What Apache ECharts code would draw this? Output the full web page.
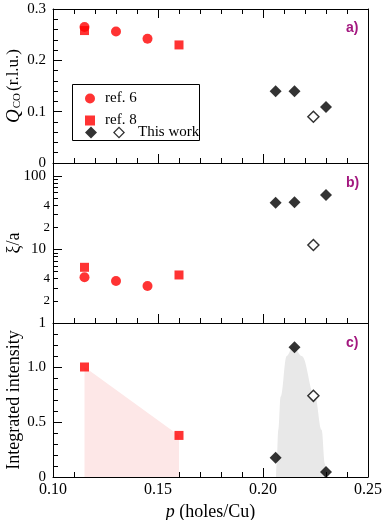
<!DOCTYPE html>
<html><head><meta charset="utf-8">
<script src="https://cdn.jsdelivr.net/npm/echarts@6/dist/echarts.min.js"></script>
<style>html,body{margin:0;padding:0;background:#fff}.pn{position:absolute;left:0;top:0;width:385px;height:520px}</style>
</head><body><div id="ca" class="pn"></div><div id="cb" class="pn"></div><div id="cc" class="pn"></div>
<script>
// ---- data ----
const ref6P = [0.115, 0.130, 0.145];
const ref6Q = [0.265, 0.256, 0.242];
const ref6Xi = [4.19, 3.73, 3.19];
const ref8P = [0.115, 0.160];
const ref8Q = [0.258, 0.230];
const ref8Xi = [5.72, 4.5];
const ref8I = [1.0, 0.378];
const workP = [0.206, 0.215, 0.230];
const workQ = [0.140, 0.140, 0.109];
const workXi = [43.3, 44, 55];
const workI = [0.174, 1.18, 0.046];
const openP = [0.224];
const openQ = [0.090];
const openXi = [11.5];
const openI = [0.738];
// outline of the grey shaded band (panel c)
const bandP = [0.2062, 0.2065, 0.2073, 0.2084, 0.2113, 0.2144, 0.2184, 0.2248, 0.2279, 0.2295, 0.2300];
const bandI = [0, 0.12, 0.43, 0.73, 1.10, 1.19, 1.10, 0.73, 0.43, 0.12, 0];
// ticks
const xiMajorTicks = [1, 10, 100];
const xiMinorTicks = [2, 3, 4, 5, 6, 7, 8, 9, 20, 30, 40, 50, 60, 70, 80, 90];
const xiMinorLabelVals = [2, 4, 20, 40];
const xiMinorLabelText = ['2', '4', '2', '4'];
const intMajorTicks = [0, 0.5, 1.0];
const intMinorTicks = [0.1, 0.2, 0.3, 0.4, 0.6, 0.7, 0.8, 0.9, 1.1, 1.2, 1.3];

const zip = (a, b) => a.map((v, i) => [v, b[i]]);
const zipLog = (a, b) => a.map((v, i) => [v, Math.log10(b[i])]);
const lg = v => Math.log10(v);

const serif = 'Liberation Serif, Times New Roman, serif';
const black = '#000';
const RED = '#ff0000';
const L = 53, R = 17;
function grid(top, height) {
  return {left: L, right: R, top: top, height: height, outerBoundsMode: 'none', containLabel: false};
}
function xAx(pos, labels) {
  return {
    type: 'value', position: pos, min: 0.10, max: 0.25, interval: 0.05,
    axisLine: {show: true, onZero: false, lineStyle: {color: black, width: 1}},
    axisTick: {show: true, inside: true, length: 9, lineStyle: {color: black, width: 1}},
    minorTick: {show: true, splitNumber: 5, length: 5, lineStyle: {color: black, width: 1}},
    splitLine: {show: false},
    axisLabel: labels ? {show: true, margin: 5, fontFamily: serif, fontSize: 16, color: black,
      formatter: v => v.toFixed(2)} : {show: false},
    name: labels ? '{i|p} (holes/Cu)' : '',
    nameLocation: 'middle', nameGap: 26, nameMoveOverlap: false,
    nameTextStyle: {fontFamily: serif, fontSize: 18, color: black,
      rich: {i: {fontFamily: serif, fontSize: 18, fontStyle: 'italic', color: black}}}
  };
}
function rightAx() {
  return {type: 'value', position: 'right', min: 0, max: 1,
    axisLine: {show: true, onZero: false, lineStyle: {color: black, width: 1}},
    axisTick: {show: false}, axisLabel: {show: false}, splitLine: {show: false}};
}
const yBase = {type: 'value', position: 'left', splitLine: {show: false},
  axisLine: {show: true, onZero: false, lineStyle: {color: black, width: 1}}};
const yName = {nameLocation: 'middle', nameGap: 30, nameRotate: 90, nameMoveOverlap: false};
function title(text, top) {
  return {text: text, left: 346, top: top, padding: 0,
    textStyle: {fontFamily: 'Liberation Sans, Arial, sans-serif', fontWeight: 'bold', fontSize: 14, color: '#a3177f'}};
}
const circ = {symbol: 'circle', symbolSize: 10, itemStyle: {color: RED}};
const sq = {symbol: 'rect', symbolSize: 9, itemStyle: {color: RED}};
const dia = {symbol: 'diamond', symbolSize: 12, itemStyle: {color: black}};
const odia = {symbol: 'diamond', symbolSize: 11, itemStyle: {color: '#fff', borderColor: black, borderWidth: 1.5}};
function sc(name, style, data) {
  return Object.assign({type: 'scatter', name: name, data: data, xAxisIndex: 0, yAxisIndex: 0, z: 3, silent: true}, style);
}

// ---- panel a ----
const optA = {
  animation: false,
  grid: grid(9, 154),
  title: title('a)', 21),
  legend: [
    {data: ['ref. 6', 'ref. 8'], orient: 'vertical', left: 85, top: 91, padding: 0, itemWidth: 10, itemHeight: 10, itemGap: 7,
     selectedMode: false, textStyle: {fontFamily: serif, fontSize: 15, color: black, padding: [0, 0, 0, 5]}},
    {data: [{name: 'This work', icon: 'path://M0 6L6 0L12 6L6 12Z M28 6L34 0L40 6L34 12Z M29.8 6L34 10.2L38.2 6L34 1.8Z'}],
     orient: 'vertical', left: 85, top: 125, padding: 0, itemWidth: 40, itemHeight: 12,
     selectedMode: false, textStyle: {fontFamily: serif, fontSize: 15, color: black, padding: [0, 0, 0, 8]}}
  ],
  graphic: [{type: 'rect', shape: {x: 72.5, y: 84.5, width: 127, height: 56}, style: {fill: 'none', stroke: black, lineWidth: 1}, z: 5}],
  xAxis: [xAx('bottom', false), xAx('top', false)],
  yAxis: [
    Object.assign({}, yBase, yName, {
      min: 0, max: 0.3, interval: 0.1,
      axisTick: {show: true, inside: true, length: 9, lineStyle: {color: black}},
      minorTick: {show: true, splitNumber: 5, length: 5, lineStyle: {color: black}},
      axisLabel: {margin: 7, fontFamily: serif, fontSize: 15, color: black},
      name: '{q|Q}{s|CO}(r.l.u.)',
      nameTextStyle: {fontFamily: serif, fontSize: 17, color: black,
        rich: {q: {fontFamily: serif, fontSize: 19, fontStyle: 'italic', color: black},
               s: {fontFamily: serif, fontSize: 11, color: black, verticalAlign: 'bottom', padding: [0, 2, 0, 1]}}}
    }),
    rightAx()
  ],
  series: [
    sc('ref. 6', circ, zip(ref6P, ref6Q)),
    sc('ref. 8', sq, zip(ref8P, ref8Q)),
    sc('This work', dia, zip(workP, workQ)),
    sc('open', odia, zip(openP, openQ))
  ]
};

// ---- panel b ----
const optB = {
  animation: false,
  grid: grid(163, 160),
  title: title('b)', 176),
  xAxis: [xAx('bottom', false)],
  yAxis: [
    Object.assign({}, yBase, yName, {
      min: 0, max: lg(150),
      axisTick: {show: true, inside: true, length: 9, lineStyle: {color: black}, customValues: xiMajorTicks.map(lg)},
      axisLabel: {margin: 7, fontFamily: serif, fontSize: 15, color: black, customValues: xiMajorTicks.map(lg),
        formatter: v => String(Math.round(Math.pow(10, v)))},
      name: 'ξ/a',
      nameTextStyle: {fontFamily: serif, fontSize: 18, color: black}
    }),
    Object.assign({}, yBase, {
      min: 0, max: lg(150),
      axisLine: {show: false},
      axisTick: {show: true, inside: true, length: 5, lineStyle: {color: black}, customValues: xiMinorTicks.map(lg)},
      axisLabel: {margin: 3, fontFamily: serif, fontSize: 13, color: black, customValues: xiMinorLabelVals.map(lg),
        formatter: v => {
          const k = xiMinorLabelVals.indexOf(Math.round(Math.pow(10, v)));
          return k >= 0 ? xiMinorLabelText[k] : '';
        }}
    }),
    rightAx()
  ],
  series: [
    sc('ref. 6', circ, zipLog(ref6P, ref6Xi)),
    sc('ref. 8', sq, zipLog(ref8P, ref8Xi)),
    sc('This work', dia, zipLog(workP, workXi)),
    sc('open', odia, zipLog(openP, openXi))
  ]
};

// ---- panel c ----
const optC = {
  animation: false,
  grid: grid(323, 154),
  title: title('c)', 336),
  xAxis: [xAx('bottom', true)],
  yAxis: [
    Object.assign({}, yBase, yName, {
      min: 0, max: 1.4,
      axisTick: {show: true, inside: true, length: 9, lineStyle: {color: black}, customValues: intMajorTicks},
      axisLabel: {margin: 7, fontFamily: serif, fontSize: 15, color: black, customValues: intMajorTicks,
        formatter: v => v === 0 ? '0' : v.toFixed(1)},
      name: 'Integrated intensity',
      nameTextStyle: {fontFamily: serif, fontSize: 18, color: black}
    }),
    Object.assign({}, yBase, {
      min: 0, max: 1.4,
      axisLine: {show: false},
      axisTick: {show: true, inside: true, length: 5, lineStyle: {color: black}, customValues: intMinorTicks},
      axisLabel: {show: false}
    }),
    rightAx()
  ],
  series: [
    {type: 'line', name: 'pinkBand', data: zip(ref8P, ref8I), symbol: 'none',
     lineStyle: {opacity: 0}, areaStyle: {color: '#fde7e7', opacity: 1}, z: 1, silent: true},
    {type: 'line', name: 'greyBand', data: zip(bandP, bandI), symbol: 'none', smooth: 0.4, smoothMonotone: 'x',
     lineStyle: {opacity: 0}, areaStyle: {color: '#e8e8e8', opacity: 1}, z: 1, silent: true},
    sc('ref. 8', sq, zip(ref8P, ref8I)),
    sc('This work', dia, zip(workP, workI)),
    sc('open', odia, zip(openP, openI))
  ]
};

echarts.init(document.getElementById('ca')).setOption(optA);
echarts.init(document.getElementById('cb')).setOption(optB);
echarts.init(document.getElementById('cc')).setOption(optC);
</script></body></html>
